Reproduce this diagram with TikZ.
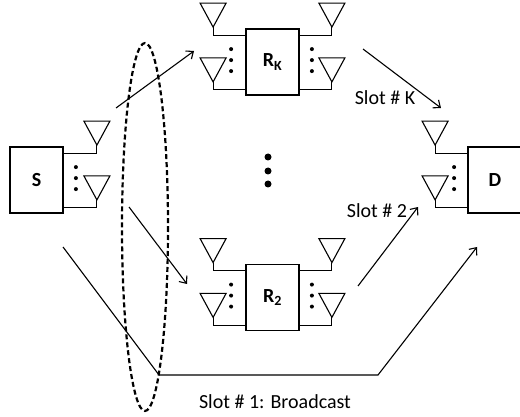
\documentclass[tikz,border=0pt]{standalone}
\usepackage{fontspec}
\setmainfont{Carlito}
\usetikzlibrary{arrows.meta}

\tikzset{
  box/.style={draw, line width=1.8pt, minimum width=53pt, minimum height=66pt, inner sep=0pt,
    font=\fontsize{20}{24}\selectfont\bfseries},
  feed/.style={line width=1.1pt},
  link/.style={line width=1.1pt, -{Straight Barb[length=6pt,width=10pt]}},
  slot/.style={font=\fontsize{20}{24}\selectfont},
  antenna/.pic={
    \draw[feed] (-13,-32) -- (13,-32) -- (0,-8) -- cycle;
    \draw[feed] (0,-8) -- (0,0);
  }
}

\begin{document}
\begin{tikzpicture}[x=1pt,y=-1pt]
        \clip (0,0) rectangle (520,417);

        % terminals and relays
        \node[box] (S) at (36.5,180) {S};
        \node[box] (RK) at (272.5,62) {R\textsubscript{K}};
        \node[box] (R2) at (272.5,297.5) {R\textsubscript{2}};
        \node[box, minimum width=54pt] (D) at (495,180) {D};

        % antenna arrays
        \foreach \n/\s/\d/\o in {S/east/33/12, D/west/-32/-13, RK/west/-32/-14, RK/east/32/12, R2/west/-32/-14, R2/east/32/12} {
                \draw[feed] ([yshift=-7pt]\n.north \s) -- ++(\d,0) pic {antenna};
                \draw[feed] ([yshift=6pt]\n.south \s) -- ++(\d,0) pic {antenna};
                \foreach \k in {21,32,43}
                        \fill ([xshift=\o pt, yshift=-\k pt]\n.north \s) circle (2pt);
        }

        % more relays
        \foreach \y in {157,171,184}
                \fill (268,\y) circle (3.5pt);

        % first hop
        \draw[line width=2.2pt, dash pattern=on 5pt off 3pt] (145,227) ellipse [x radius=23, y radius=184];

        \coordinate (s1) at (116,108);
        \coordinate (k1) at (194,51);
        \coordinate (s2) at (129,207);
        \coordinate (t2) at (187,284);
        \draw[link] (s1) -- (k1);
        \draw[link] (s2) -- (t2);

        % second hop
        \coordinate (k2) at (363,49);
        \coordinate (dk) at (441,108);
        \coordinate (r2) at (358,286);
        \coordinate (d2) at (418,207);
        \draw[link] (k2) -- (dk);
        \draw[link] (r2) -- (d2);

        % broadcast path
        \coordinate (b0) at (63,247);
        \coordinate (b1) at (159,375);
        \coordinate (b2) at (378,375);
        \coordinate (b3) at (477,247);
        \draw[link] (b0) -- (b1) -- (b2) -- (b3);

        \node[slot] (lk) at (385,98) {Slot \# K};
        \node[slot] (l2) at (377,211) {Slot \# 2};
        \node[slot] (l1) at (275,402) {Slot \# 1: Broadcast};
\end{tikzpicture}
\end{document}
